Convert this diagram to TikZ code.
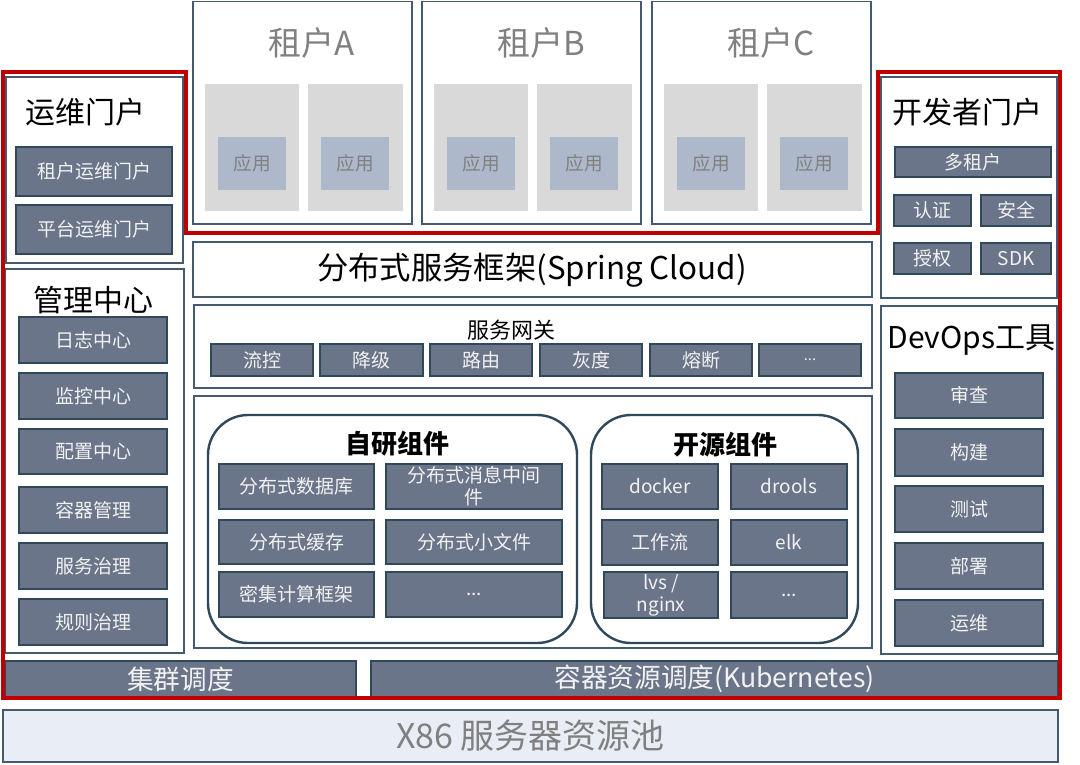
\documentclass[tikz,border=0pt]{standalone}
\usepackage{fontspec}
\setmainfont{Noto Sans CJK SC}
\usetikzlibrary{fit}

\definecolor{panelc}{RGB}{68,90,110}
\definecolor{btnline}{RGB}{47,72,90}
\definecolor{btnfill}{RGB}{106,117,138}
\definecolor{btntext}{RGB}{242,242,242}
\definecolor{appfill}{RGB}{173,185,202}
\definecolor{grayfill}{RGB}{217,217,217}
\definecolor{poolfill}{RGB}{233,237,245}
\definecolor{redframe}{RGB}{192,0,0}
\definecolor{graytext}{RGB}{128,128,128}

\tikzset{every picture/.style={line width=0.75pt}}
\tikzset{
  panel/.style={draw=panelc, fill=white, line width=1.4pt, inner sep=0pt},
  tenant/.style={draw=panelc, fill=white, line width=1.4pt, inner sep=0pt},
  graybox/.style={fill=grayfill, inner sep=0pt},
  app/.style={fill=appfill, inner sep=0pt},
  apptxt/.style={inner sep=0.75pt, text=graytext, font=\fontsize{14}{16}\selectfont},
  btn/.style={draw=btnline, fill=btnfill, line width=1.8pt, inner sep=0pt},
  btntxt/.style={inner sep=0.75pt, align=center, text=btntext, font=\fontsize{14.25}{16.5}\selectfont},
  bigtxt/.style={btntxt, font=\fontsize{20}{22}\selectfont},
  group/.style={draw=btnline, line width=1.8pt, rounded corners=30pt, inner sep=0pt},
  pool/.style={draw=panelc, fill=poolfill, line width=1.4pt, inner sep=0pt},
  pooltxt/.style={inner sep=0.75pt, text=graytext, font=\fontsize{25.5}{28}\selectfont},
  paneltitle/.style={inner sep=0.75pt, font=\fontsize{22.5}{26}\selectfont},
  tenanttitle/.style={inner sep=0.75pt, text=graytext, font=\fontsize{24.75}{28}\selectfont},
  grouptitle/.style={inner sep=0.75pt, font=\bfseries\fontsize{19.5}{22}\selectfont},
  redline/.style={draw=redframe, line width=3.4pt, line join=miter}
}

\begin{document}
\begin{tikzpicture}[x=0.75pt,y=0.75pt,yscale=-1,xscale=1]
\useasboundingbox (0,0) rectangle (1080,764);

% Tenant A
\node [tenant, fit={(193,1.5) (412,224)}] (tenA) {};
\node [tenanttitle] (tenAtitle) at (312,43) {租户A};
\node [graybox, fit={(205,84) (299,211)}] (tenAbox1) {};
\node [graybox, fit={(308,84) (403,211)}] (tenAbox2) {};
\node [app, fit={(218,137) (286,190)}, label={[apptxt]center:应用}] (tenAapp1) {};
\node [app, fit={(321,137) (389,190)}, label={[apptxt]center:应用}] (tenAapp2) {};
% Tenant B
\node [tenant, fit={(422,1.5) (641,224)}] (tenB) {};
\node [tenanttitle] (tenBtitle) at (541,43) {租户B};
\node [graybox, fit={(434,84) (528,211)}] (tenBbox1) {};
\node [graybox, fit={(537,84) (632,211)}] (tenBbox2) {};
\node [app, fit={(447,137) (515,190)}, label={[apptxt]center:应用}] (tenBapp1) {};
\node [app, fit={(550,137) (618,190)}, label={[apptxt]center:应用}] (tenBapp2) {};
% Tenant C
\node [tenant, fit={(652,1.5) (871,224)}] (tenC) {};
\node [tenanttitle] (tenCtitle) at (771,43) {租户C};
\node [graybox, fit={(664,84) (758,211)}] (tenCbox1) {};
\node [graybox, fit={(767,84) (862,211)}] (tenCbox2) {};
\node [app, fit={(677,137) (745,190)}, label={[apptxt]center:应用}] (tenCapp1) {};
\node [app, fit={(780,137) (848,190)}, label={[apptxt]center:应用}] (tenCapp2) {};

% Ops portal
\node [panel, fit={(6,77) (183,263)}] (ops) {};
\node [paneltitle] (opstitle) at (85,112) {运维门户};
\node [btn, fit={(16,147) (172,196)}, label={[btntxt]center:租户运维门户}] (opsTenant) {};
\node [btn, fit={(16,205) (172,254)}, label={[btntxt]center:平台运维门户}] (opsPlatform) {};

% Management center
\node [panel, fit={(5,269) (184,653)}] (mgmt) {};
\node [btn, fit={(19,317) (167,363)}, label={[btntxt]center:日志中心}] (mgmtLog) {};
\node [btn, fit={(19,373) (167,419)}, label={[btntxt]center:监控中心}] (mgmtMon) {};
\node [btn, fit={(19,429) (167,474)}, label={[btntxt]center:配置中心}] (mgmtConf) {};
\node [btn, fit={(19,487) (167,533)}, label={[btntxt]center:容器管理}] (mgmtCont) {};
\node [btn, fit={(19,543) (167,589)}, label={[btntxt]center:服务治理}] (mgmtSvc) {};
\node [btn, fit={(19,599) (167,645)}, label={[btntxt]center:规则治理}] (mgmtRule) {};
\node [paneltitle] (mgmttitle) at (93,300) {管理中心};

% Service framework
\node [panel, fit={(193,242) (872,297)}] (frame) {};
\node [paneltitle, font=\fontsize{23.5}{26}\selectfont] (frametitle) at (532,270) {分布式服务框架(Spring Cloud)};

% Gateway
\node [panel, fit={(194,305) (872,388)}] (gw) {};
\node [inner sep=0.75pt, font=\fontsize{16.5}{19}\selectfont] (gwtitle) at (511,330) {服务网关};
\node [btn, fit={(211,344) (313,376)}, label={[btntxt]center:流控}] (gwFlow) {};
\node [btn, fit={(320,344) (423,376)}, label={[btntxt]center:降级}] (gwDegrade) {};
\node [btn, fit={(430,344) (532,376)}, label={[btntxt]center:路由}] (gwRoute) {};
\node [btn, fit={(540,344) (642,376)}, label={[btntxt]center:灰度}] (gwGray) {};
\node [btn, fit={(650,344) (752,376)}, label={[btntxt]center:熔断}] (gwBreak) {};
\node [btn, fit={(759,344) (861,376)}, label={[btntxt, font=\fontsize{11}{13}\selectfont]center:...}] (gwMore) {};

% Components
\node [panel, fit={(194,396) (872,648)}] (comp) {};
\node [group, fit={(208,415) (577,643)}] (self) {};
\node [grouptitle] (selftitle) at (397,444) {自研组件};
\node [btn, fit={(219,464) (374,509)}, label={[btntxt]center:分布式数据库}] (selfDb) {};
\node [btn, fit={(386,464) (562,509)}, label={[btntxt]center:分布式消息中间\\件}] (selfMq) {};
\node [btn, fit={(219,520) (374,564)}, label={[btntxt]center:分布式缓存}] (selfCache) {};
\node [btn, fit={(386,520) (562,564)}, label={[btntxt]center:分布式小文件}] (selfFile) {};
\node [btn, fit={(219,572) (374,617)}, label={[btntxt]center:密集计算框架}] (selfCompute) {};
\node [btn, fit={(386,572) (562,617)}, label={[btntxt]center:...}] (selfMore) {};
\node [group, fit={(591,415) (858,643)}] (open) {};
\node [grouptitle] (opentitle) at (725,445) {开源组件};
\node [btn, fit={(602,464) (718,509)}, label={[btntxt]center:docker}] (openDocker) {};
\node [btn, fit={(731,464) (847,509)}, label={[btntxt]center:drools}] (openDrools) {};
\node [btn, fit={(602,520) (718,565)}, label={[btntxt]center:工作流}] (openFlow) {};
\node [btn, fit={(731,520) (847,565)}, label={[btntxt]center:elk}] (openElk) {};
\node [btn, fit={(604,572) (718,618)}, label={[btntxt]center:lvs /\\nginx}] (openLvs) {};
\node [btn, fit={(731,572) (847,618)}, label={[btntxt]center:...}] (openMore) {};

% Developer portal
\node [panel, fit={(881,77) (1057,298)}] (dev) {};
\node [paneltitle] (devtitle) at (967,112) {开发者门户};
\node [btn, fit={(895,147) (1051,177)}, label={[btntxt]center:多租户}] (devTenant) {};
\node [btn, fit={(894,195) (971,226)}, label={[btntxt]center:认证}] (devAuthn) {};
\node [btn, fit={(981,195) (1051,226)}, label={[btntxt]center:安全}] (devSafe) {};
\node [btn, fit={(894,243) (971,274)}, label={[btntxt]center:授权}] (devAuthz) {};
\node [btn, fit={(981,243) (1051,274)}, label={[btntxt]center:SDK}] (devSdk) {};

% DevOps tools
\node [panel, fit={(881,306) (1057,654)}] (devops) {};
\node [paneltitle, anchor=west] (devopstitle) at (886,340) {DevOps工具};
\node [btn, fit={(895,373) (1043,418)}, label={[btntxt]center:审查}] (devopsReview) {};
\node [btn, fit={(895,429) (1043,476)}, label={[btntxt]center:构建}] (devopsBuild) {};
\node [btn, fit={(895,486) (1043,532)}, label={[btntxt]center:测试}] (devopsTest) {};
\node [btn, fit={(895,543) (1043,589)}, label={[btntxt]center:部署}] (devopsDeploy) {};
\node [btn, fit={(895,600) (1043,646)}, label={[btntxt]center:运维}] (devopsOps) {};

% Scheduling and resource pool
\node [btn, fit={(5,661) (356,697)}, label={[bigtxt]center:集群调度}] (cluster) {};
\node [btn, fit={(371,661) (1058,697)}, label={[bigtxt]center:容器资源调度(Kubernetes)}] (k8s) {};
\node [pool, fit={(3,710) (1058,762)}, label={[pooltxt]center:X86 服务器资源池}] (x86) {};

% Red frame
\draw [redline] (3,72) -- (186,72) -- (186,233) -- (878,233) -- (878,72) -- (1060,72) -- (1060,698) -- (3,698) -- cycle;

\end{tikzpicture}
\end{document}
